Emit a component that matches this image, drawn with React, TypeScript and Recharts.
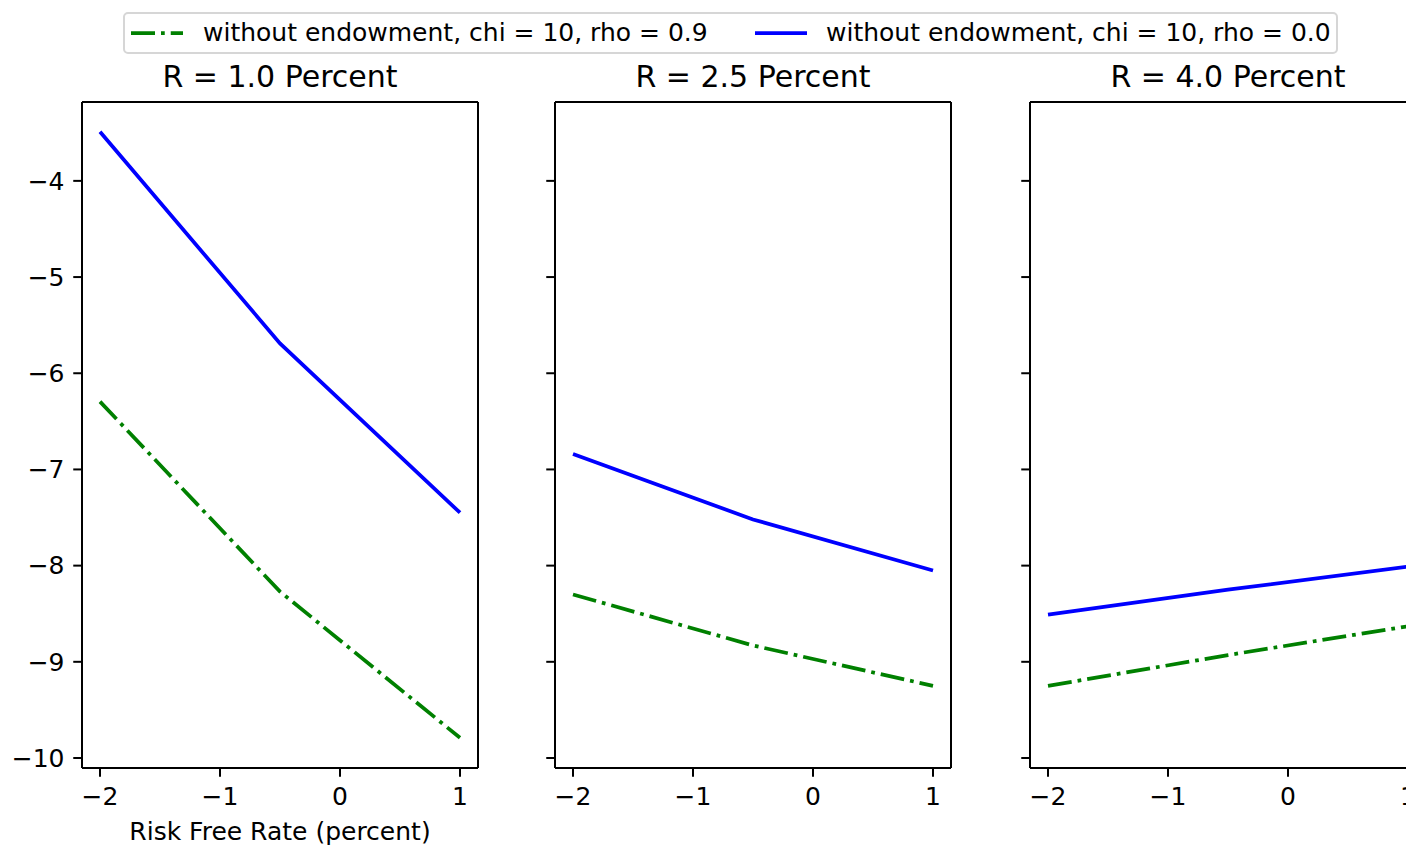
import React from 'react';
import { LineChart, Line, XAxis, YAxis, Legend } from 'recharts';

const FONT = '"DejaVu Sans", sans-serif';

// x values (risk free rate, percent)
const xValues = [-2, -0.5, 1];
const xTicks = [-2, -1, 0, 1];
const yTicks = [-10, -9, -8, -7, -6, -5, -4];
const xDomain = [-2.15, 1.15];
const yDomain = [-10.104, -3.18];

// series: without endowment, chi = 10, rho = 0.9 (green dash-dot)
const rho09R10 = [-6.295, -8.27, -9.79];
const rho09R25 = [-8.3, -8.83, -9.25];
const rho09R40 = [-9.25, -8.93, -8.63];
// series: without endowment, chi = 10, rho = 0.0 (blue solid)
const rho00R10 = [-3.49, -5.69, -7.45];
const rho00R25 = [-6.84, -7.52, -8.05];
const rho00R40 = [-8.51, -8.25, -8.01];

const titles = ['R = 1.0 Percent', 'R = 2.5 Percent', 'R = 4.0 Percent'];
const seriesNames = [
  'without endowment, chi = 10, rho = 0.9',
  'without endowment, chi = 10, rho = 0.0',
];
const xLabel = 'Risk Free Rate (percent)';

const build = (a: number[], b: number[]) =>
  xValues.map((x, i) => ({ x, rho09: a[i], rho00: b[i] }));

const panels = [
  { title: titles[0], data: build(rho09R10, rho00R10) },
  { title: titles[1], data: build(rho09R25, rho00R25) },
  { title: titles[2], data: build(rho09R40, rho00R40) },
];

const fmt = (v: number) => (v < 0 ? '\u2212' + Math.abs(v) : String(v));

const LW = 3.75;
const DASHDOT = '24 6 3.75 6';
const AX = { stroke: '#000', strokeWidth: 2 };

const legendHandleLeft = [8, 632];
const legendTextLeft = [80, 703];

const renderLegend = (props: any) => {
  const payload = [...(props.payload || [])].sort(
    (a: any, b: any) => seriesNames.indexOf(a.value) - seriesNames.indexOf(b.value)
  );
  return (
    <div
      style={{
        position: 'relative',
        width: 1215,
        height: 42,
        boxSizing: 'border-box',
        border: '2px solid #d6d6d6',
        borderRadius: 5,
        background: '#fff',
        fontFamily: FONT,
        fontSize: 25,
        color: '#000',
      }}
    >
      {payload.map((entry: any, i: number) => (
        <React.Fragment key={i}>
          <svg
            width={52}
            height={10}
            style={{ position: 'absolute', left: legendHandleLeft[i] - 2, top: 14 }}
          >
            <line
              x1={0}
              x2={52}
              y1={5}
              y2={5}
              stroke={entry.color}
              strokeWidth={LW}
              strokeDasharray={entry.payload && entry.payload.strokeDasharray}
            />
          </svg>
          <span
            style={{
              position: 'absolute',
              left: legendTextLeft[i] - 2,
              top: 0,
              lineHeight: '38px',
              whiteSpace: 'nowrap',
            }}
          >
            {entry.value}
          </span>
        </React.Fragment>
      ))}
    </div>
  );
};

type PanelProps = {
  idx: number;
  left: number;
  width: number;
  yAxisWidth: number;
};

const Panel = ({ idx, left, width, yAxisWidth }: PanelProps) => {
  const p = panels[idx];
  const first = idx === 0;
  return (
    <div style={{ position: 'absolute', left, top: 0 }}>
      <LineChart
        width={width}
        height={846}
        data={p.data}
        margin={{ top: 101, right: 21, bottom: 0, left: 0 }}
      >
        <XAxis
          dataKey="x"
          type="number"
          domain={xDomain}
          ticks={xTicks}
          allowDataOverflow
          tickFormatter={fmt}
          height={78}
          tickSize={8.75}
          tickMargin={10}
          axisLine={AX}
          tickLine={AX}
          tick={{ fill: '#000', fontSize: 25, fontFamily: FONT }}
          interval={0}
          label={
            first
              ? {
                  value: xLabel,
                  position: 'insideBottom',
                  offset: 6,
                  fill: '#000',
                  fontSize: 25,
                  fontFamily: FONT,
                }
              : undefined
          }
        />
        <XAxis
          xAxisId="top"
          orientation="top"
          type="number"
          domain={xDomain}
          allowDataOverflow
          height={1}
          tick={false}
          tickLine={false}
          axisLine={AX}
          label={{
            value: p.title,
            position: 'top',
            offset: 14,
            fill: '#000',
            fontSize: 30,
            fontFamily: FONT,
          }}
        />
        <YAxis
          type="number"
          domain={yDomain}
          ticks={yTicks}
          allowDataOverflow
          width={yAxisWidth}
          tickSize={8.75}
          tickMargin={8.75}
          axisLine={AX}
          tickLine={AX}
          interval={0}
          tickFormatter={first ? fmt : () => ''}
          tick={{ fill: '#000', fontSize: 25, fontFamily: FONT }}
        />
        <YAxis
          yAxisId="right"
          orientation="right"
          type="number"
          domain={yDomain}
          allowDataOverflow
          width={1}
          tick={false}
          tickLine={false}
          axisLine={AX}
        />
        <Line
          type="linear"
          dataKey="rho09"
          name={seriesNames[0]}
          stroke="#008000"
          strokeWidth={LW}
          strokeDasharray={DASHDOT}
          dot={false}
          activeDot={false}
          isAnimationActive={false}
        />
        <Line
          type="linear"
          dataKey="rho00"
          name={seriesNames[1]}
          stroke="#0000ff"
          strokeWidth={LW}
          dot={false}
          activeDot={false}
          isAnimationActive={false}
        />
        {first && (
          <Legend
            layout="horizontal"
            verticalAlign="middle"
            align="center"
            content={renderLegend}
            wrapperStyle={{ position: 'absolute', left: 123, top: 12, width: 1215, height: 42 }}
          />
        )}
      </LineChart>
    </div>
  );
};

export default function App() {
  return (
    <div
      style={{
        position: 'fixed',
        left: 0,
        top: 0,
        width: 1406,
        height: 846,
        overflow: 'hidden',
        background: '#fff',
        fontFamily: FONT,
      }}
    >
      <Panel idx={1} left={480} width={493} yAxisWidth={75} />
      <Panel idx={2} left={955} width={493} yAxisWidth={75} />
      <Panel idx={0} left={0} width={500} yAxisWidth={82} />
    </div>
  );
}
